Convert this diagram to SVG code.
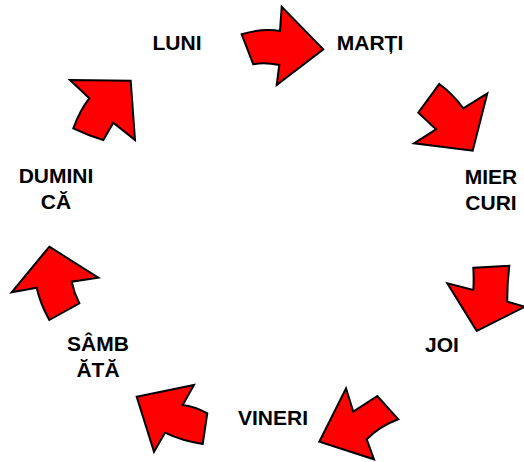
<svg xmlns="http://www.w3.org/2000/svg" width="524" height="462" viewBox="0 0 524 462">
<style>
.arr{fill:#ff0000;stroke:#000;stroke-width:2;stroke-linejoin:miter}
.lbl{font-family:"Liberation Sans",Arial,sans-serif;font-weight:bold;font-size:21px;fill:#000;text-anchor:middle}
</style>
<rect width="524" height="462" fill="#fff"/>
<g id="connectors">
<path id="a1" class="arr" d="M241.7,34.3 Q262,28 280,31 L281.7,6.7 L323.3,49.3 L276.7,85 L279.3,65 Q264,62 253.3,64.3 Z"/>
<path id="a2" class="arr" d="M439.3,84 Q453,94 463.3,108.3 L487.3,93.3 L472.7,150.7 L414,143.3 L436,129.3 L418.3,112.7 Z"/>
<path id="a3" class="arr" d="M473.3,267.7 L509.3,265.7 Q507,285 507.3,301.7 L525,306.7 L476.7,331 L447.3,283.3 L473.3,290 Q474,279 473.3,267.7 Z"/>
<path id="a4" class="arr" d="M346,388.3 L353.3,411.7 L377.3,396 L398.3,419.3 Q380,426 366.7,439.3 L374,459.3 L319.3,441.7 Z"/>
<path id="a5" class="arr" d="M136.7,396.7 L194,385 L182.7,405 Q196,407 207.3,413.3 L202.7,444 Q182,441 165,432.7 L154,451.7 Z"/>
<path id="a6" class="arr" d="M49.3,246.7 L98.3,277.7 L71.7,281.7 Q74,293 79.3,303.3 L49.3,320 Q40,303 36.7,287.7 L11.7,292.3 Z"/>
<path id="a7" class="arr" d="M70,80 L130.7,80.7 L135,140 L113.3,122.7 L103.3,140 Q87,135 73.3,128.3 Q80,110 89.3,98.3 Z"/>
</g>
<g id="luni"><text class="lbl" x="177" y="50">LUNI</text></g>
<g id="marti"><text class="lbl" x="370" y="50">MARȚI</text></g>
<g id="miercuri"><text class="lbl" x="491" y="184">MIER</text><text class="lbl" x="491" y="210">CURI</text></g>
<g id="joi"><text class="lbl" x="442" y="352">JOI</text></g>
<g id="vineri"><text class="lbl" x="273" y="425">VINERI</text></g>
<g id="sambata"><text class="lbl" x="98" y="351">SÂMB</text><text class="lbl" x="98" y="377">ĂTĂ</text></g>
<g id="duminica"><text class="lbl" x="56" y="183">DUMINI</text><text class="lbl" x="56" y="209">CĂ</text></g>
</svg>
